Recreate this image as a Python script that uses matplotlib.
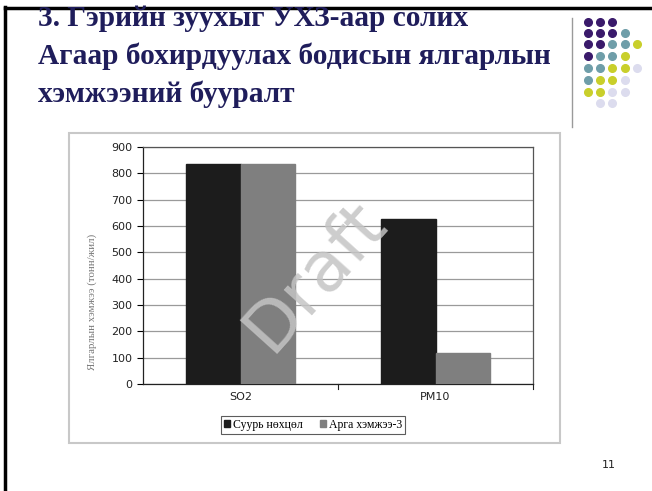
import matplotlib.pyplot as plt
from matplotlib.patches import Rectangle
from matplotlib.lines import Line2D

# Données du graphique
categories = ["SO2", "PM10"]
base_values = [835, 625]
arga_values = [835, 118]
series_names = ["Суурь нөхцөл", "Арга хэмжээ-3"]
y_ticks = [0, 100, 200, 300, 400, 500, 600, 700, 800, 900]

title_lines = ["3. Гэрийн зуухыг УХЗ-аар солих",
               "Агаар бохирдуулах бодисын ялгарлын",
               "хэмжээний бууралт"]

W, H = 652, 491
fig = plt.figure(figsize=(W / 100, H / 100), dpi=100)


def fx(px):
    return px / W


def fy(py):
    return 1 - py / H


# Cadre de la diapositive
fig.add_artist(Line2D([fx(5), fx(5)], [fy(7), 0], color="black", lw=2.5))
fig.add_artist(Line2D([fx(5), 1], [fy(7.5), fy(7.5)], color="black", lw=2.5))

# Titre
for i, line in enumerate(title_lines):
    fig.text(fx(38), fy(18 + i * 38), line, family="Liberation Serif", weight="bold",
             fontsize=21.2, color="#1f1d5b", va="center", ha="left")

# Décoration en points (coin supérieur droit)
fig.add_artist(Line2D([fx(572), fx(572)], [fy(18), fy(127)], color="#9a9a9a", lw=1))
P, T, Y, L = "#3a1a6b", "#6f9ea9", "#c9cf2b", "#dcdcee"
rows = [[P, P, P], [P, P, P, T], [P, P, T, T, Y], [P, T, T, Y],
        [T, T, Y, Y, L], [T, Y, Y, L], [Y, Y, L, L], [L, L, L]]
xs = [588, 600, 612, 625, 637]
ys = [22, 33, 44, 56, 68, 80, 92, 103]
for r, row in enumerate(rows):
    for c, col in enumerate(row):
        if r == 7 and c == 0:
            continue
        fig.add_artist(Line2D([fx(xs[c])], [fy(ys[r])], marker="o", markersize=5.5,
                              color=col, linestyle="none"))

# Cadre du graphique
fig.add_artist(Rectangle((fx(69), fy(443)), fx(560) - fx(69), fy(133) - fy(443),
                         fill=False, edgecolor="#c8c8c8", lw=1.5))

ax = fig.add_axes([fx(143), fy(384), fx(533) - fx(143), fy(147) - fy(384)])
x = list(range(len(categories)))
w = 0.282
ax.bar([i - w / 2 for i in x], base_values, w, color="#1c1c1c", edgecolor="#1c1c1c",
       label=series_names[0], zorder=3)
ax.bar([i + w / 2 for i in x], arga_values, w, color="#7f7f7f", edgecolor="#7f7f7f",
       label=series_names[1], zorder=3)

ax.set_xlim(-0.5, 1.5)
ax.set_ylim(0, 900)
ax.set_yticks(y_ticks)
ax.set_yticklabels([str(v) for v in y_ticks], fontsize=8, color="#222222")
ax.set_xticks(x)
ax.set_xticklabels(categories, fontsize=8, color="#222222")
ax.tick_params(axis="x", length=0, pad=6)
ax.tick_params(axis="y", length=4, direction="out", width=0.8)
ax.grid(axis="y", color="#9a9a9a", lw=0.9, zorder=0)
for s in ax.spines.values():
    s.set_color("#555555")
    s.set_linewidth(0.9)
ax.spines["left"].set_color("#222222")
ax.spines["bottom"].set_color("#222222")
# petites graduations entre catégories
for xt in [0.5, 1.5]:
    ax.plot([xt, xt], [0, -18], color="#222222", lw=0.8, clip_on=False)

fig.text(fx(92), fy(302), "Ялгарлын хэмжээ (тонн/жил)", rotation=90, family="Liberation Serif",
         fontsize=7.8, color="#777777", ha="center", va="center")

leg = fig.legend(loc="center", bbox_to_anchor=(fx(313), fy(425)), ncol=2, frameon=True,
                 fancybox=False, prop={"family": "Liberation Serif", "size": 8.5},
                 handlelength=0.55, handleheight=0.55, handletextpad=0.25, columnspacing=1.4,
                 borderpad=0.25, edgecolor="#333333")
leg.get_frame().set_linewidth(0.8)

# Filigrane
fig.text(fx(315), fy(276), "Draft", rotation=48, fontsize=50, color="#c4c4c4",
         alpha=0.85, ha="center", va="center", family="DejaVu Sans", zorder=10)

fig.text(fx(609), fy(465), "11", fontsize=8, color="#222222", ha="center", va="center")

plt.savefig("out.png", dpi=100)
